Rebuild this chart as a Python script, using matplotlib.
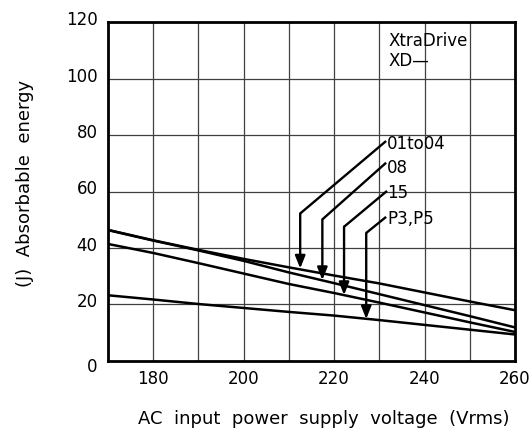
import matplotlib
matplotlib.use("Agg")
import matplotlib.pyplot as plt
from matplotlib.transforms import ScaledTranslation

# ---- data ----
voltage = [170, 180, 190, 200, 210, 220, 230, 240, 250, 260]
e_01to04 = [46.4, 42.7, 39.3, 36.1, 33.1, 30.2, 27.4, 24.2, 21.0, 17.9]
e_08 = [46.3, 42.6, 39.1, 35.4, 31.3, 27.5, 23.6, 19.7, 15.8, 11.8]
e_15 = [41.4, 38.2, 34.6, 30.9, 27.2, 24.0, 20.6, 17.1, 13.6, 10.2]
e_p3p5 = [23.2, 21.7, 20.1, 18.7, 17.3, 16.0, 14.4, 12.7, 11.0, 9.3]

labels = ["01to04", "08", "15", "P3,P5"]
arrow_x = [212.5, 217.4, 222.2, 227.1]
arrow_top = [52.2, 50.1, 47.5, 45.3]
arrow_tip = [32.7, 28.6, 23.3, 14.8]
leader_end_x = [231.5, 231.5, 231.7, 231.5]
leader_end_y = [77.9, 70.2, 60.2, 51.0]
label_x = 231.7
label_y = [77.0, 68.2, 59.5, 50.2]

x_ticks = [180, 200, 220, 240, 260]
y_ticks = [0, 20, 40, 60, 80, 100, 120]
x_grid = [180, 190, 200, 210, 220, 230, 240, 250]
y_grid = [20, 40, 60, 80, 100]

plt.rcParams['font.family'] = ['DejaVu Sans']

fig = plt.figure(figsize=(5.31, 4.30), dpi=100)
ax = fig.add_axes([108 / 531, 1 - 360.7 / 430, (515 - 108) / 531, (360.7 - 22.3) / 430])

ax.set_xlim(170, 260)
ax.set_ylim(0, 120)

for g in x_grid:
    ax.axvline(g, color='#404040', lw=0.9, zorder=1)
for g in y_grid:
    ax.axhline(g, color='#404040', lw=0.9, zorder=1)

for series in (e_01to04, e_08, e_15, e_p3p5):
    ax.plot(voltage, series, color='black', lw=1.8, zorder=3, solid_capstyle='butt')

for lab, ax_x, top, tip, ex, ey, ly in zip(labels, arrow_x, arrow_top, arrow_tip,
                                           leader_end_x, leader_end_y, label_y):
    ax.plot([ex, ax_x], [ey, top], color='black', lw=1.7, zorder=4,
            solid_capstyle='butt', solid_joinstyle='miter')
    ax.annotate('', xy=(ax_x, tip), xytext=(ax_x, top),
                arrowprops=dict(arrowstyle='-|>,head_length=0.75,head_width=0.3',
                                color='black', lw=1.7, shrinkA=0, shrinkB=0,
                                mutation_scale=10),
                zorder=4)
    ax.text(label_x, ly, lab, fontsize=12, ha='left', va='center', zorder=5)

ax.text(232.0, 113.2, "XtraDrive", fontsize=12, ha='left', va='center')
ax.text(232.0, 106.2, "XD\u2014", fontsize=12, ha='left', va='center')

ax.set_xticks(x_ticks)
ax.set_yticks(y_ticks)
ax.set_xticklabels([str(v) for v in x_ticks])
ax.set_yticklabels([str(v) for v in y_ticks])
ax.tick_params(axis='both', length=0, labelsize=12)
ax.tick_params(axis='x', pad=7)
ax.tick_params(axis='y', pad=7.5)

for tick in ax.yaxis.get_major_ticks():
    lab = tick.label1
    dy = -3 / 72 if lab.get_text() == "0" else 3 / 72
    lab.set_transform(lab.get_transform() + ScaledTranslation(0, dy, fig.dpi_scale_trans))

for s in ax.spines.values():
    s.set_linewidth(2.0)
    s.set_color('black')
    s.set_zorder(6)

ax.set_xlabel("AC  input  power  supply  voltage  (Vrms)", fontsize=13, va='center')
ax.xaxis.set_label_coords(0.5295, -0.172)
ax.set_ylabel("(J)  Absorbable  energy", fontsize=13, va='center')
ax.yaxis.set_label_coords(-0.204, 0.524)

fig.savefig("out.png", dpi=100)
